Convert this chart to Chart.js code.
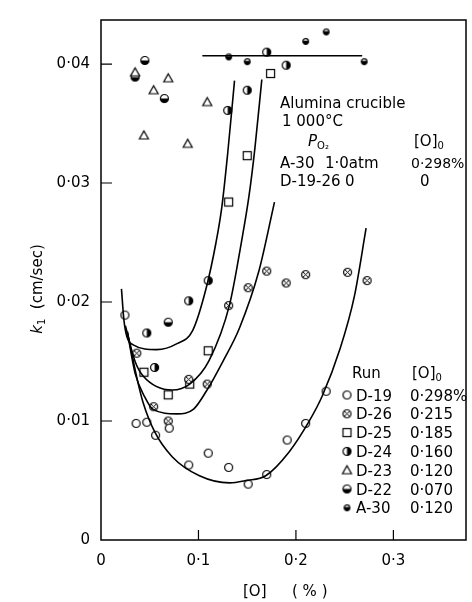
<!DOCTYPE html>
<html>
<head>
<meta charset="utf-8">
<script src="https://cdn.jsdelivr.net/npm/chart.js@4"></script>
<style>
  html, body { margin: 0; padding: 0; background: #fff; }
</style>
</head>
<body>
<canvas id="chart" width="472" height="602"></canvas>
<script>
// measured points, [O] (%) vs k1 (cm/sec)
const d19 = [[0.0245,0.0189],[0.036,0.0098],[0.047,0.0099],[0.056,0.0088],[0.070,0.0094],
  [0.090,0.0063],[0.110,0.0073],[0.131,0.0061],[0.151,0.0047],[0.170,0.0055],
  [0.191,0.0084],[0.210,0.0098],[0.231,0.0125]];
const d26 = [[0.0367,0.0157],[0.054,0.0112],[0.069,0.0100],[0.090,0.0135],[0.109,0.0131],
  [0.131,0.0197],[0.151,0.0212],[0.170,0.0226],[0.190,0.0216],[0.210,0.0223],
  [0.253,0.0225],[0.273,0.0218]];
const d25 = [[0.044,0.0141],[0.069,0.0122],[0.091,0.0131],[0.110,0.0159],[0.131,0.0284],
  [0.150,0.0323],[0.174,0.0392]];
const d24 = [[0.047,0.0174],[0.055,0.0145],[0.090,0.0201],[0.110,0.0218],[0.130,0.0361],
  [0.150,0.0378],[0.170,0.0410],[0.190,0.0399]];
const d23 = [[0.035,0.0393],[0.054,0.0378],[0.069,0.0388],[0.109,0.0368],[0.044,0.0340],
  [0.089,0.0333]];
const d22 = [[0.045,0.0403],[0.035,0.0389],[0.065,0.0371],[0.069,0.0183]];
const a30 = [[0.131,0.0406],[0.150,0.0402],[0.210,0.0419],[0.231,0.0427],[0.270,0.0402]];

// hand-drawn fit curves
const fitD19 = [[0.027,0.0175],[0.032,0.0155],[0.038,0.0132],[0.043,0.0116],[0.055,0.0091],
  [0.073,0.0070],[0.101,0.0054],[0.132,0.0048],[0.149,0.0050],[0.169,0.0054],
  [0.193,0.0074],[0.213,0.0099],[0.227,0.0121],[0.245,0.0160],[0.260,0.0205],[0.272,0.0262]];
const fitD26 = [[0.027,0.0175],[0.035,0.0140],[0.045,0.0120],[0.053,0.0110],[0.078,0.0106],
  [0.095,0.0110],[0.108,0.0125],[0.125,0.0150],[0.142,0.0178],[0.162,0.0226],[0.178,0.0284]];
const fitD25 = [[0.025,0.0180],[0.035,0.0150],[0.043,0.0138],[0.073,0.0126],[0.091,0.0131],
  [0.111,0.0151],[0.132,0.0198],[0.144,0.0250],[0.152,0.0290],[0.158,0.0330],[0.165,0.0387]];
const fitD24 = [[0.021,0.0211],[0.0235,0.0185],[0.0265,0.0171],[0.033,0.0164],[0.057,0.0160],
  [0.078,0.0165],[0.094,0.0176],[0.108,0.0212],[0.118,0.0250],[0.124,0.0280],[0.130,0.0325],
  [0.137,0.0386]];
const fitA30 = [[0.104,0.0407],[0.268,0.0407]];

const xTicks = [0, 0.1, 0.2, 0.3];
const xTickLabels = ['0', '0·1', '0·2', '0·3'];
const yTicks = [0, 0.01, 0.02, 0.03, 0.04];
const yTickLabels = ['0', '0·01', '0·02', '0·03', '0·04'];

const runNames = ['D-19', 'D-26', 'D-25', 'D-24', 'D-23', 'D-22', 'A-30'];
const runO0 = ['0·298%', '0·215', '0·185', '0·160', '0·120', '0·070', '0·120'];

const FONT = '"DejaVu Sans", sans-serif';

function sym(kind) {
  const c = document.createElement('canvas');
  c.width = c.height = 13;
  const g = c.getContext('2d');
  g.strokeStyle = '#000'; g.fillStyle = '#000'; g.lineWidth = 1.2;
  const m = 6.5, r = 4;
  const ring = (rr) => { g.beginPath(); g.arc(m, m, rr, 0, Math.PI * 2); g.fillStyle = '#fff'; g.fill(); g.fillStyle = '#000'; g.stroke(); };
  if (kind === 'o') ring(r);
  if (kind === 'x') {
    ring(r);
    g.beginPath(); g.moveTo(m - 2.6, m - 2.6); g.lineTo(m + 2.6, m + 2.6);
    g.moveTo(m + 2.6, m - 2.6); g.lineTo(m - 2.6, m + 2.6); g.lineWidth = 1; g.stroke();
  }
  if (kind === 's') { g.fillStyle = '#fff'; g.fillRect(m - 4, m - 4, 8, 8); g.strokeRect(m - 4, m - 4, 8, 8); }
  if (kind === 'r') { ring(r); g.beginPath(); g.arc(m, m, r, -Math.PI / 2, Math.PI / 2); g.closePath(); g.fill(); }
  if (kind === 't') {
    g.beginPath(); g.moveTo(m, m - 4.5); g.lineTo(m + 4.5, m + 3.5); g.lineTo(m - 4.5, m + 3.5); g.closePath();
    g.fillStyle = '#fff'; g.fill(); g.stroke();
  }
  if (kind === 'b') { ring(r); g.beginPath(); g.arc(m, m, r, 0, Math.PI); g.closePath(); g.fill(); }
  if (kind === 'a') {
    g.beginPath(); g.arc(m, m, 2.8, 0, Math.PI * 2); g.fillStyle = '#fff'; g.fill(); g.fillStyle = '#000'; g.stroke();
    g.beginPath(); g.arc(m, m, 2.8, -0.3, Math.PI + 0.3); g.closePath(); g.fill();
  }
  return c;
}
const symbols = ['o', 'x', 's', 'r', 't', 'b', 'a'].map(sym);
const runData = [d19, d26, d25, d24, d23, d22, a30];
const fits = [fitD19, fitD26, fitD25, fitD24, fitA30];

const toXY = arr => arr.map(p => ({ x: p[0], y: p[1] }));

const datasets = [];
fits.forEach(f => datasets.push({
  data: toXY(f), showLine: true, pointRadius: 0, borderColor: '#000', borderWidth: 1.6,
  cubicInterpolationMode: 'monotone', fill: false
}));
runData.forEach((d, i) => datasets.push({
  data: toXY(d), pointStyle: symbols[i], pointRadius: 5, showLine: false
}));

function subText(g, parts, x, y) {
  // parts: [text, font, dy]
  let cx = x;
  parts.forEach(([t, f, dy]) => { g.font = f; g.fillText(t, cx, y + (dy || 0)); cx += g.measureText(t).width; });
}

const decor = {
  id: 'decor',
  afterDraw(chart) {
    const g = chart.ctx, a = chart.chartArea;
    const xs = chart.scales.x, ys = chart.scales.y;
    g.save();
    g.strokeStyle = '#000'; g.lineWidth = 1.5;
    g.strokeRect(a.left, a.top, a.right - a.left, a.bottom - a.top);
    g.lineWidth = 1.2;
    g.beginPath();
    yTicks.slice(1).forEach(v => { const y = ys.getPixelForValue(v); g.moveTo(a.left, y); g.lineTo(a.left + 11, y); });
    xTicks.slice(1).forEach(v => { const x = xs.getPixelForValue(v); g.moveTo(x, a.bottom); g.lineTo(x, a.bottom - 10); });
    g.stroke();

    g.fillStyle = '#000'; g.textBaseline = 'alphabetic'; g.textAlign = 'left';
    const f = '15px ' + FONT, fs = '10px ' + FONT, fi = 'italic 15px ' + FONT;
    g.font = f;
    g.fillText('Alumina crucible', 280, 108);
    g.fillText('1 000°C', 282, 126);
    subText(g, [['P', fi], ['O₂', fs, 3]], 308, 146);
    subText(g, [['[O]', f], ['0', fs, 3]], 414, 146);
    g.font = f;
    g.fillText('A-30', 280, 168); g.fillText('1·0atm', 325, 168);
    g.font = '14px ' + FONT; g.fillText('0·298%', 411, 168);
    g.font = f;
    g.fillText('D-19-26', 280, 186); g.fillText('0', 345, 186); g.fillText('0', 420, 186);

    // run legend
    g.font = f;
    g.fillText('Run', 352, 378);
    subText(g, [['[O]', f], ['0', fs, 3]], 412, 378);
    runNames.forEach((n, i) => {
      const y = 395 + i * 18.8;
      g.drawImage(symbols[i], 347 - 6.5, y - 6.5);
      g.font = f;
      g.fillText(n, 356, y + 5.5);
      g.fillText(runO0[i], 410, y + 5.5);
    });

    // axis titles
    g.font = f; g.textAlign = 'left';
    g.fillText('[O]', 243, 596);
    g.fillText('( % )', 292, 596);
    g.translate(42, 289); g.rotate(-Math.PI / 2);
    const w = (() => { g.font = fi; const a1 = g.measureText('k').width; g.font = fs; const a2 = g.measureText('1').width; g.font = f; return a1 + a2 + g.measureText('  (cm/sec)').width; })();
    subText(g, [['k', fi], ['1', fs, 3], ['  (cm/sec)', f]], -w / 2, 0);
    g.restore();
  }
};

new Chart(document.getElementById('chart'), {
  type: 'scatter',
  data: { datasets },
  options: {
    responsive: false,
    devicePixelRatio: 1,
    animation: false,
    layout: { padding: { top: 12, right: 4, left: 0, bottom: 0 } },
    plugins: { legend: { display: false }, tooltip: { enabled: false } },
    scales: {
      x: {
        type: 'linear', min: 0, max: 0.3745,
        afterFit: s => { s.height = 62; },
        afterBuildTicks: s => { s.ticks = xTicks.map(v => ({ value: v })); },
        grid: { display: false, drawTicks: false },
        border: { display: false },
        ticks: { padding: 12, color: '#000', font: { family: FONT, size: 15 },
          callback: (v) => xTickLabels[xTicks.indexOf(v)] }
      },
      y: {
        type: 'linear', min: 0, max: 0.0437,
        afterFit: s => { s.width = 101; },
        afterBuildTicks: s => { s.ticks = yTicks.map(v => ({ value: v })); },
        grid: { display: false, drawTicks: false },
        border: { display: false },
        ticks: { padding: 11, color: '#000', font: { family: FONT, size: 15 },
          callback: (v) => yTickLabels[yTicks.indexOf(v)] }
      }
    }
  },
  plugins: [decor]
});
</script>
</body>
</html>
